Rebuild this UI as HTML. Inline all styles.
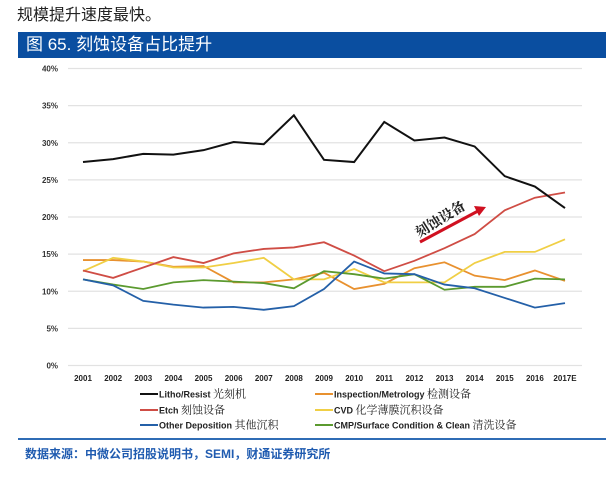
<!DOCTYPE html>
<html><head><meta charset="utf-8"><style>
body{margin:0;width:606px;height:485px;background:#fff;font-family:"Liberation Sans","Noto Sans CJK SC",sans-serif;position:relative;overflow:hidden}
.a{position:absolute}
</style></head><body>
<div class="a" style="left:17px;top:1px;font-size:16px;color:#222">规模提升速度最快。</div>
<div class="a" style="left:18px;top:32px;width:588px;height:26px;background:#0a4ea0;color:#fff;font-size:17px;line-height:26px;padding-left:8px;box-sizing:border-box">图 65. 刻蚀设备占比提升</div>
<svg class="a" style="left:0;top:0" width="606" height="485" id="chart"></svg>
<div class="a" style="left:18px;top:438px;width:588px;height:2px;background:#2f6cb5"></div>
<div class="a" style="left:25px;top:445px;font-size:12px;font-weight:bold;color:#1f5bb0">数据来源：中微公司招股说明书，SEMI，财通证券研究所</div>
<script>
const categories=["2001","2002","2003","2004","2005","2006","2007","2008","2009","2010","2011","2012","2013","2014","2015","2016","2017E"];
const yTicks=[0,5,10,15,20,25,30,35,40];
const litho=[27.4,27.8,28.5,28.4,29,30.1,29.8,33.7,27.7,27.4,32.8,30.3,30.7,29.5,25.5,24.1,21.2];
const etch=[12.8,11.8,13.2,14.6,13.8,15.1,15.7,15.9,16.6,14.8,12.7,14.1,15.8,17.7,20.9,22.6,23.3];
const inspection=[14.2,14.2,14.0,13.3,13.4,11.2,11.2,11.6,12.5,10.3,11.0,13.1,13.9,12.1,11.5,12.8,11.4];
const cvd=[12.7,14.5,14.0,13.2,13.2,13.8,14.5,11.6,11.6,13.0,11.2,11.2,11.2,13.8,15.3,15.3,17.0];
const otherDep=[11.6,10.8,8.7,8.2,7.8,7.9,7.5,8.0,10.3,14.0,12.4,12.3,10.9,10.4,9.1,7.8,8.4];
const cmp=[11.6,10.9,10.3,11.2,11.5,11.3,11.1,10.4,12.7,12.3,11.7,12.3,10.2,10.6,10.6,11.7,11.6];
const svg=document.getElementById('chart');const NS='http://www.w3.org/2000/svg';
function x(i){return 83+i*(565-83)/(categories.length-1);}
function y(v){return 365.5-v*(365.5-68.5)/40;}
function mk(t,a){const e=document.createElementNS(NS,t);for(const k in a)e.setAttribute(k,a[k]);svg.appendChild(e);return e;}
yTicks.forEach(v=>{const g=mk('line',{x1:68,x2:582,y1:y(v),y2:y(v),stroke:'#e2e2e2','stroke-width':1.2});


const t=mk('text',{x:58,y:y(v)+3,'text-anchor':'end','font-size':8,'font-weight':'bold',fill:'#333'});t.textContent=v+'%';

});
categories.forEach((c,i)=>{const t=mk('text',{x:x(i),y:381,'text-anchor':'middle','font-size':8,'font-weight':'bold',fill:'#222'});t.textContent=c;

});
const series=[[inspection,'#e8912f','inspection'],[cvd,'#f0cf45','cvd'],[cmp,'#5b9a2f','cmp'],[otherDep,'#2460a8','other-deposition'],[etch,'#cf4d45','etch'],[litho,'#111','litho']];
series.forEach(([d,c,n])=>{const p=mk('polyline',{points:d.map((v,i)=>x(i)+','+y(v)).join(' '),fill:'none',stroke:c,'stroke-width':n=='litho'?2:1.8});

});
const ar=mk('line',{x1:420,y1:242,x2:478,y2:211,stroke:'#d01020','stroke-width':3});


const ah=mk('polygon',{points:'486,207 474,206 479,216',fill:'#d01020'});


const at=mk('text',{x:0,y:0,'font-size':14,'font-weight':'bold',fill:'#222',transform:'translate(419,238) rotate(-32)','font-family':'Noto Serif CJK SC, serif'});at.textContent='刻蚀设备';


const leg=[['#111','Litho/Resist','光刻机',140,394],['#e8912f','Inspection/Metrology','检测设备',315,394],['#cf4d45','Etch','刻蚀设备',140,410],['#f0cf45','CVD','化学薄膜沉积设备',315,410],['#2460a8','Other Deposition','其他沉积',140,425],['#5b9a2f','CMP/Surface Condition & Clean','清洗设备',315,425]];
leg.forEach(([c,en,zh,lx,ly])=>{const l=mk('line',{x1:lx,x2:lx+18,y1:ly,y2:ly,stroke:c,'stroke-width':2});


const t=mk('text',{x:lx+19,y:ly+3.5,'font-size':9,'font-weight':'bold',fill:'#222'});t.textContent=en+' ';
const s=document.createElementNS(NS,'tspan');s.setAttribute('font-weight','normal');s.setAttribute('font-size','11');s.setAttribute('font-family','Noto Serif CJK SC, serif');s.textContent=zh;t.appendChild(s);

});
</script>
</body></html>
